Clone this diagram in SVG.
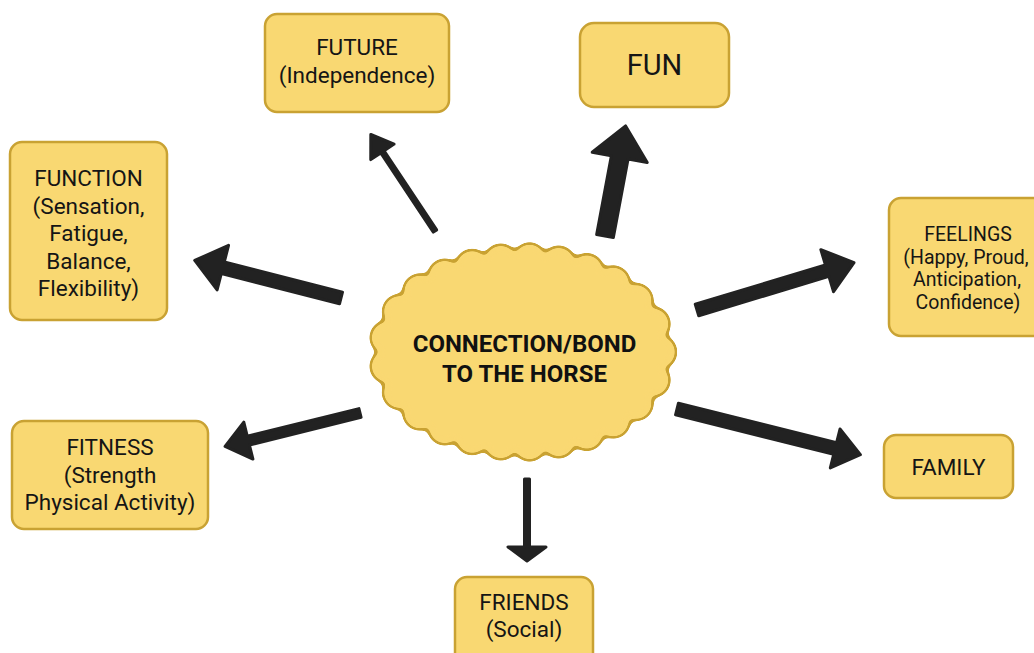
<svg xmlns="http://www.w3.org/2000/svg" width="1034" height="653" viewBox="0 0 1034 653">
  <style>
    .box { fill: #F9D872; stroke: #C9A233; stroke-width: 2.5; }
    .lbl { font-family: Roboto, "Liberation Sans", sans-serif; font-size: 22.5px; fill: #151515; text-anchor: middle; }
    .big { font-size: 29px; }
    .small { font-size: 19.5px; }
    .hub { font-family: Roboto, "Liberation Sans", sans-serif; font-size: 24px; font-weight: bold; fill: #111; text-anchor: middle; }
    .arrow { fill: #222; stroke: #222; stroke-width: 3; stroke-linejoin: round; }
    .beads { fill: none; stroke-linecap: round; stroke-dasharray: 0 1; }
  </style>
  <defs>
    <!-- merges the ring of round beads with the core ellipse into one soft-valleyed outline -->
    <filter id="merge" x="-10%" y="-10%" width="120%" height="120%">
      <feGaussianBlur stdDeviation="3"/>
      <feComponentTransfer>
        <feFuncA type="linear" slope="12" intercept="-5.5"/>
      </feComponentTransfer>
    </filter>
    <path id="ring" pathLength="25" d="M659.5,352 A137,92 0 1 1 385.5,352 A137,92 0 1 1 659.5,352 Z"/>
  </defs>
  <rect width="1034" height="653" fill="#fff"/>

  <!-- connectors: tail at origin, pointing along +x, placed by translate/rotate -->
  <g id="connectors">
    <path class="arrow" transform="translate(341,298) rotate(194.4)" d="M0,-6 L122,-6 L122,-23 L151,0 L122,23 L122,6 L0,6 Z"/>
    <path class="arrow" transform="translate(435,231) rotate(236.4)" d="M0,-2 L95,-2 L95,-14 L116,0 L95,14 L95,2 L0,2 Z"/>
    <path class="arrow" transform="translate(605,236) rotate(280.6)" d="M0,-8.5 L80,-8.5 L80,-28 L112,0 L80,28 L80,8.5 L0,8.5 Z"/>
    <path class="arrow" transform="translate(697,310) rotate(-16.8)" d="M0,-6 L136,-6 L136,-22 L164,0 L136,22 L136,6 L0,6 Z"/>
    <path class="arrow" transform="translate(677,409) rotate(14)" d="M0,-6 L163,-6 L163,-20 L189,0 L163,20 L163,6 L0,6 Z"/>
    <path class="arrow" transform="translate(360,413) rotate(166.1)" d="M0,-4.5 L115,-4.5 L115,-19 L139,0 L115,19 L115,4.5 L0,4.5 Z"/>
    <path class="arrow" transform="translate(527,479) rotate(90)" d="M0,-2.5 L68,-2.5 L68,-19 L82,0 L68,19 L68,2.5 L0,2.5 Z"/>
  </g>

  <!-- wavy-edged hub: gold outer shape, yellow inner shape -->
  <g id="hub">
    <g filter="url(#merge)">
      <ellipse cx="522.5" cy="352" rx="137" ry="92" fill="#C9A233"/>
      <use href="#ring" class="beads" stroke="#C9A233" stroke-width="36"/>
    </g>
    <g filter="url(#merge)">
      <ellipse cx="522.5" cy="352" rx="137" ry="92" fill="#F9D872"/>
      <use href="#ring" class="beads" stroke="#F9D872" stroke-width="31"/>
    </g>
    <text class="hub" x="524.5" y="352">CONNECTION/BOND</text>
    <text class="hub" x="524.5" y="382">TO THE HORSE</text>
  </g>

  <g id="future">
    <rect class="box" x="265" y="14" width="184" height="98" rx="12"/>
    <text class="lbl" x="357" y="55">FUTURE</text>
    <text class="lbl" x="357" y="83">(Independence)</text>
  </g>

  <g id="fun">
    <rect class="box" x="580" y="23" width="149" height="84" rx="14"/>
    <text class="lbl big" x="654.5" y="75">FUN</text>
  </g>

  <g id="function">
    <rect class="box" x="10" y="142" width="157" height="178" rx="12"/>
    <text class="lbl" x="88.5" y="186">FUNCTION</text>
    <text class="lbl" x="88.5" y="213.5">(Sensation,</text>
    <text class="lbl" x="88.5" y="241">Fatigue,</text>
    <text class="lbl" x="88.5" y="268.5">Balance,</text>
    <text class="lbl" x="88.5" y="296">Flexibility)</text>
  </g>

  <g id="feelings">
    <rect class="box" x="889" y="198" width="161" height="138" rx="12"/>
    <text class="lbl small" x="968" y="241">FEELINGS</text>
    <text class="lbl small" x="966" y="263.5">(Happy, Proud,</text>
    <text class="lbl small" x="967" y="286">Anticipation,</text>
    <text class="lbl small" x="968" y="308.5">Confidence)</text>
  </g>

  <g id="family">
    <rect class="box" x="884" y="435" width="129" height="63" rx="12"/>
    <text class="lbl" x="948.5" y="475">FAMILY</text>
  </g>

  <g id="fitness">
    <rect class="box" x="12" y="421" width="196" height="108" rx="12"/>
    <text class="lbl" x="110" y="455">FITNESS</text>
    <text class="lbl" x="110" y="482.5">(Strength</text>
    <text class="lbl" x="110" y="510">Physical Activity)</text>
  </g>

  <g id="friends">
    <rect class="box" x="455" y="577" width="138" height="90" rx="12"/>
    <text class="lbl" x="524" y="610">FRIENDS</text>
    <text class="lbl" x="524" y="637">(Social)</text>
  </g>
</svg>
